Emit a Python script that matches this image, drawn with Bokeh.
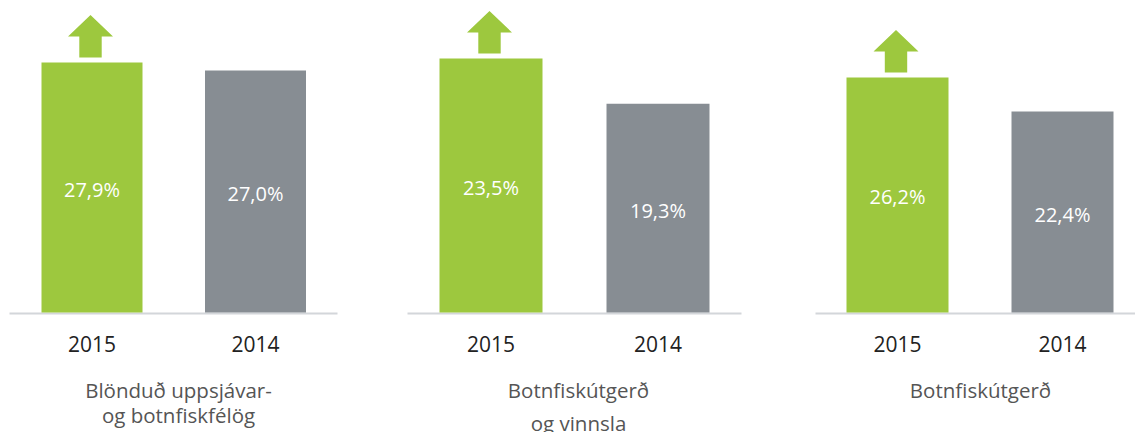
from bokeh.plotting import figure
from bokeh.layouts import row
from bokeh.models import Range1d, ColumnDataSource
from bokeh.core.properties import value
from bokeh.embed import file_html
from bokeh.resources import INLINE

# ---- data ----
years = ["2015", "2014"]
titles = ["Blönduð uppsjávar-\nog botnfiskfélög", "Botnfiskútgerð\nog vinnsla", "Botnfiskútgerð"]
val_2015 = [27.9, 23.5, 26.2]
val_2014 = [27.0, 19.3, 22.4]
labels_2015 = ["27,9%", "23,5%", "26,2%"]
labels_2014 = ["27,0%", "19,3%", "22,4%"]

# ---- style / layout ----
GREEN = "#9DC83E"
GRAY = "#878D93"
BASELINE = "#D3D6DA"
YEAR_COLOR = "#222222"
TITLE_COLOR = "#555555"
FONT = "Open Sans"

H = 432
BASE = 312                      # baseline, px from top of figure
fig_w = [372, 406, 357]
first_c = [91.5, 118.5, 119.0]  # px from figure left to centre of first bar
step = [163.5, 167.0, 165.0]    # px between bar centres
bar_w = [101, 103, 102]
px_per_unit = [8.96, 10.81, 8.97]
base_x = [(9, 337), (35, 369), (37, 357)]
title_x = [178, 206, 202]
title_mid = [(77, 102), (77, 110), (77, 101)]  # px below baseline for the middle of each title line

figs = []
for i in range(3):
    sx = step[i]
    s = px_per_unit[i]
    x0 = -first_c[i] / sx
    p = figure(width=fig_w[i], height=H, output_backend="svg", toolbar_location=None,
               x_range=Range1d(x0, x0 + fig_w[i] / sx),
               y_range=Range1d(-(H - BASE) / s, BASE / s),
               min_border=0, outline_line_color=None, background_fill_color="white",
               border_fill_color="white")
    p.xaxis.visible = False
    p.yaxis.visible = False
    p.grid.visible = False

    vals = [val_2015[i], val_2014[i]]
    labs = [labels_2015[i], labels_2014[i]]
    xs = [0.0, 1.0]
    src = ColumnDataSource(dict(x=xs, top=vals, mid=[v / 2 for v in vals], lab=labs,
                                color=[GREEN, GRAY], year=years))

    # baseline
    p.segment(x0=[(base_x[i][0] - first_c[i]) / sx], x1=[(base_x[i][1] - first_c[i]) / sx],
              y0=[-1.0 / s], y1=[-1.0 / s], line_color=BASELINE, line_width=2)

    p.vbar(x="x", top="top", bottom=0, width=bar_w[i] / sx, fill_color="color",
           line_color=None, source=src)

    # up arrow above the 2015 bar
    v = val_2015[i]
    cx = -1.5 / sx
    hw_s, hw_h = 11.2 / sx, 22.5 / sx
    yb = v + 5.0 / s
    ym = v + 26.0 / s
    yt = v + 47.5 / s
    p.patch(x=[cx - hw_s, cx + hw_s, cx + hw_s, cx + hw_h, cx, cx - hw_h, cx - hw_s],
            y=[yb, yb, ym, ym, yt, ym, ym], fill_color=GREEN, line_color=None)

    # value labels
    p.text(x="x", y="mid", text="lab", source=src, text_color="white",
           text_font=value(FONT), text_font_size="20px", text_align="center",
           text_baseline="middle", y_offset=2)

    # year labels
    p.text(x="x", y=-31.0 / s, text="year", source=src, text_color=YEAR_COLOR,
           text_font=value(FONT), text_font_size="21px", text_align="center",
           text_baseline="middle")

    # titles
    lines = titles[i].split("\n")
    tx = (title_x[i] - first_c[i]) / sx
    p.text(x=[tx] * len(lines), y=[-title_mid[i][k] / s for k in range(len(lines))],
           text=lines, text_color=TITLE_COLOR, text_font=value(FONT),
           text_font_size="20.5px", text_align="center", text_baseline="middle")
    figs.append(p)

layout = row(*figs, spacing=0)
open("out.html", "w").write(file_html(layout, INLINE))
